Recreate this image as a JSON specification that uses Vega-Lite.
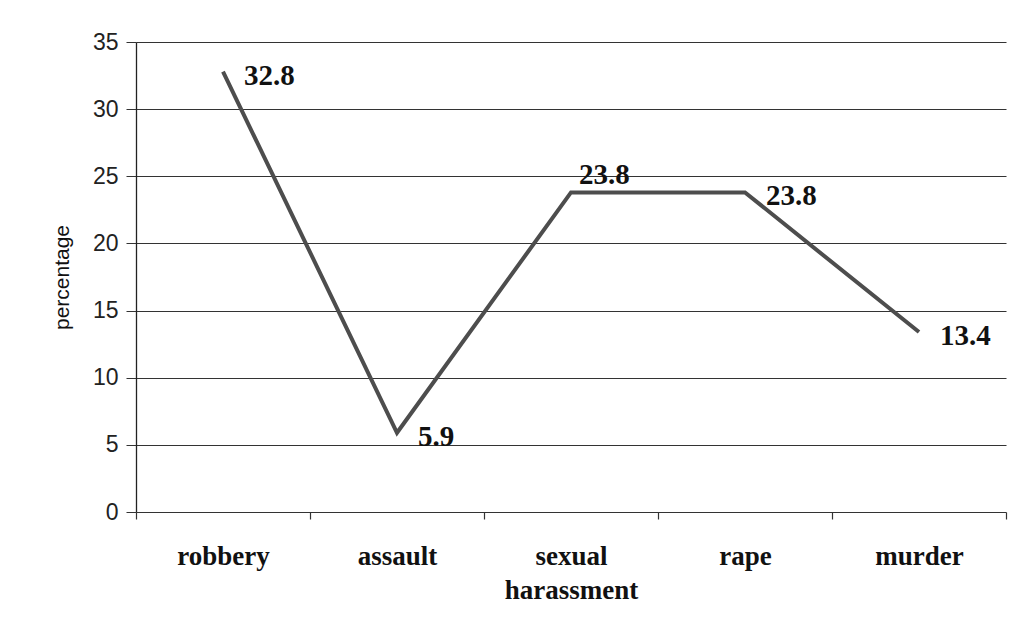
{
  "$schema": "https://vega.github.io/schema/vega-lite/v6.json",
  "autosize": "none",
  "width": 870,
  "height": 470,
  "padding": {"left": 136, "top": 42, "right": 23, "bottom": 122},
  "background": "white",
  "config": {"view": {"stroke": null}},
  "data": {"values": [
    {"crime": "robbery", "percentage": 32.8},
    {"crime": "assault", "percentage": 5.9},
    {"crime": "sexual harassment", "percentage": 23.8},
    {"crime": "rape", "percentage": 23.8},
    {"crime": "murder", "percentage": 13.4}
  ]},
  "encoding": {
    "x": {"field": "crime", "type": "nominal", "sort": null,
      "scale": {"paddingInner": 0, "paddingOuter": 0},
      "axis": {"title": null, "labelAngle": 0, "tickBand": "extent", "grid": false,
        "domain": false, "tickColor": "#333", "tickSize": 7, "tickWidth": 1.2,
        "labelFont": "Liberation Serif", "labelFontWeight": "bold", "labelFontSize": 27,
        "labelColor": "#111", "labelPadding": 24, "labelLineHeight": 34,
        "labelExpr": "datum.label == 'sexual harassment' ? ['sexual', 'harassment'] : datum.label"}},
    "y": {"field": "percentage", "type": "quantitative",
      "scale": {"domain": [0, 35]},
      "axis": {"title": "percentage", "values": [0, 5, 10, 15, 20, 25, 30, 35],
        "titleFont": "Liberation Sans", "titleFontWeight": "normal", "titleFontSize": 21,
        "titleColor": "#111", "titlePadding": 20,
        "labelFont": "Liberation Sans", "labelFontSize": 23, "labelColor": "#222", "labelPadding": 8,
        "tickSize": 10, "tickColor": "#333", "domainColor": "#222", "domainWidth": 1.3,
        "grid": true, "gridColor": "#333", "gridWidth": 1.2}}
  },
  "layer": [
    {"mark": {"type": "line", "color": "#4d4d4d", "strokeWidth": 4}},
    {"transform": [{"filter": "datum.crime != 'sexual harassment'"}],
      "mark": {"type": "text", "align": "left", "baseline": "middle", "dx": 21, "dy": 4,
        "font": "Liberation Serif", "fontWeight": "bold", "fontSize": 29, "color": "#111"},
      "encoding": {"text": {"field": "percentage", "type": "quantitative", "format": ".1f"}}},
    {"transform": [{"filter": "datum.crime == 'sexual harassment'"}],
      "mark": {"type": "text", "align": "left", "baseline": "middle", "dx": 8, "dy": -17,
        "font": "Liberation Serif", "fontWeight": "bold", "fontSize": 29, "color": "#111"},
      "encoding": {"text": {"field": "percentage", "type": "quantitative", "format": ".1f"}}}
  ]
}
